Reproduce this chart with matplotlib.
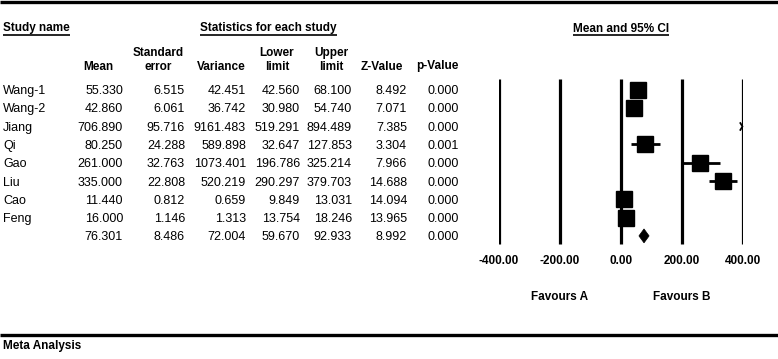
import matplotlib
matplotlib.use("Agg")
import matplotlib.pyplot as plt
import numpy as np

studies = ["Wang-1", "Wang-2", "Jiang", "Qi", "Gao", "Liu", "Cao", "Feng", ""]
mean = [55.330, 42.860, 706.890, 80.250, 261.000, 335.000, 11.440, 16.000, 76.301]
se = [6.515, 6.061, 95.716, 24.288, 32.763, 22.808, 0.812, 1.146, 8.486]
variance = [42.451, 36.742, 9161.483, 589.898, 1073.401, 520.219, 0.659, 1.313, 72.004]
lower = [42.560, 30.980, 519.291, 32.647, 196.786, 290.297, 9.849, 13.754, 59.670]
upper = [68.100, 54.740, 894.489, 127.853, 325.214, 379.703, 13.031, 18.246, 92.933]
zval = [8.492, 7.071, 7.385, 3.304, 7.966, 14.688, 14.094, 13.965, 8.992]
pval = [0.000, 0.000, 0.000, 0.001, 0.000, 0.000, 0.000, 0.000, 0.000]
ticks = [-400, -200, 0, 200, 400]
tick_labels = ["-400.00", "-200.00", "0.00", "200.00", "400.00"]

W, H = 778, 359
fig = plt.figure(figsize=(W / 100, H / 100), dpi=100)
bg = fig.add_axes([0, 0, 1, 1])
bg.set_xlim(0, W)
bg.set_ylim(H, 0)
bg.axis("off")

REG = ["Liberation Sans", "DejaVu Sans"]
BOLD = ["Liberation Sans", "DejaVu Sans"]
fs = 9
fb = 8.5

row0, dy = 89.5, 18.3
rows_px = [row0 + dy * i for i in range(len(studies))]

# thick rules
bg.plot([0, W], [1.5, 1.5], color="black", lw=2.4, solid_capstyle="butt")
bg.plot([0, W], [335, 335], color="black", lw=2.4, solid_capstyle="butt")

def btext(x, y, s, ha="center"):
    return bg.text(x, y, s, fontsize=fb, fontweight="bold", family=BOLD, ha=ha, va="baseline")

underlined = [btext(3, 31.5, "Study name", ha="left"),
              btext(268.5, 31.5, "Statistics for each study"),
              btext(621, 31.5, "Mean and 95% CI")]

# column headers
col_right = [123, 185, 246, 300, 352, 407, 459]
headers = [("", "Mean", 98), ("Standard", "error", 158), ("", "Variance", 221),
           ("Lower", "limit", 277), ("Upper", "limit", 331), ("", "Z-Value", 382), ("", "p-Value", 437)]
for top, bot, cx in headers:
    if top:
        btext(cx, 56, top)
    btext(cx, 69.5, bot)

cols = [mean, se, variance, lower, upper, zval, pval]
for i, y in enumerate(rows_px):
    yb = y + 4.5
    if studies[i]:
        bg.text(3, yb, studies[i], fontsize=fs, family=REG, ha="left", va="baseline")
    for c, xr in zip(cols, col_right):
        bg.text(xr, yb, f"{c[i]:.3f}", fontsize=fs, family=REG, ha="right", va="baseline")

# forest axes
x0px, x1px = 498.5, 742.9
top_px, bot_px = 70, 250
ax = fig.add_axes([x0px / W, 1 - bot_px / H, (x1px - x0px) / W, (bot_px - top_px) / H])
ax.set_xlim(ticks[0], ticks[-1])
ax.set_ylim((bot_px - row0) / dy, (top_px - row0) / dy)
ax.axis("off")
ax.patch.set_alpha(0)

ylo, yhi = (79 - row0) / dy, (244 - row0) / dy
ax.vlines(ticks, ylo, yhi, color="black", lw=2.3)

n = len(studies) - 1
xmin, xmax = ax.get_xlim()
for i in range(n):
    lo, hi, m = lower[i], upper[i], mean[i]
    if lo < xmax:
        ax.plot([max(lo, xmin), min(hi, xmax)], [i, i], color="black", lw=2, solid_capstyle="butt")
    if xmin <= m <= xmax:
        ax.plot(m, i, marker="s", color="black", markersize=11)
    elif m > xmax:
        ax.plot(xmax - 3, i, marker=[(-1, 1.6), (0, 0), (-1, -1.6)], markersize=6, mfc="none", mec="black", mew=1.3, clip_on=False)

# summary diamond
k = n
dh = 0.38
ax.fill([lower[k], mean[k], upper[k], mean[k]], [k, k - dh, k, k + dh], color="black", lw=0.5)

for t, lab in zip(ticks, tick_labels):
    px = x0px + (t - ticks[0]) / (ticks[-1] - ticks[0]) * (x1px - x0px)
    btext(px, 264, lab)

btext(560, 300, "Favours A")
btext(682, 300, "Favours B")
btext(3, 349, "Meta Analysis", ha="left")

# underline headings
fig.canvas.draw()
inv = bg.transData.inverted()
for t in underlined:
    bb = t.get_window_extent()
    (xa, ya), (xb, yb) = inv.transform([(bb.x0, bb.y0), (bb.x1, bb.y1)])
    yl = max(ya, yb) + 0.3
    bg.plot([xa, xb], [yl, yl], color="black", lw=1.2, solid_capstyle="butt")

fig.savefig("out.png", dpi=100)
